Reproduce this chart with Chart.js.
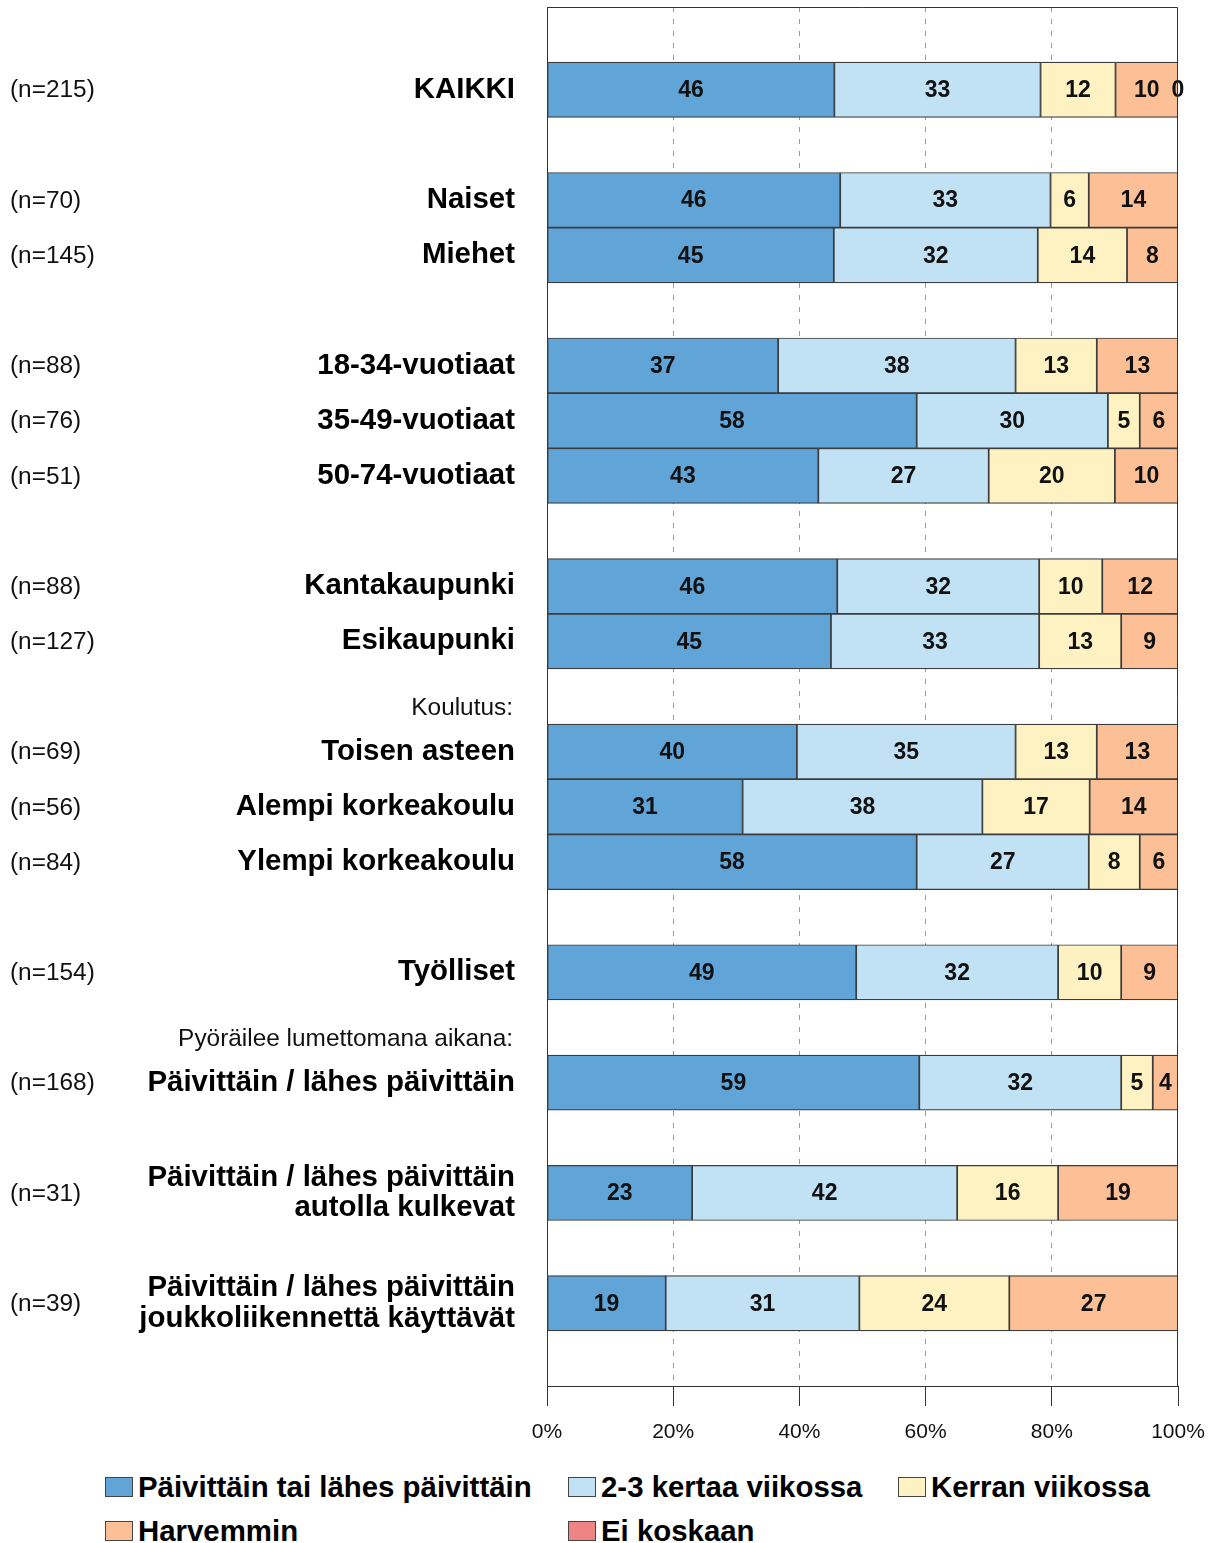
<!DOCTYPE html>
<html lang="fi">
<head>
<meta charset="utf-8">
<title>Pyöräilyn useus</title>
<script src="https://cdn.jsdelivr.net/npm/chart.js@4/dist/chart.umd.min.js"></script>
<style>
  html, body { margin: 0; padding: 0; background: #fff; }
  #wrap { position: relative; width: 1224px; height: 1543px; font-family: "Liberation Sans", Arial, sans-serif; }
  #c { display: block; }
  .lg-item { position: absolute; display: flex; align-items: center; height: 34px; font-weight: bold; font-size: 29.4px; color: #000; white-space: nowrap; }
  .lg-box { width: 26px; height: 18px; border: 1px solid #444; margin-right: 5px; flex: none; }
</style>
</head>
<body>
<div id="wrap">
  <canvas id="c" width="1224" height="1460"></canvas>
  <div id="legend"></div>
</div>
<script>
// Rows of the chart (top to bottom); empty strings are spacer rows
const categories = [
  "", "KAIKKI", "", "Naiset", "Miehet", "",
  "18-34-vuotiaat", "35-49-vuotiaat", "50-74-vuotiaat", "",
  "Kantakaupunki", "Esikaupunki", "",
  "Toisen asteen", "Alempi korkeakoulu", "Ylempi korkeakoulu", "",
  "Työlliset", "",
  "Päivittäin / lähes päivittäin", "",
  ["Päivittäin / lähes päivittäin", "autolla kulkevat"], "",
  ["Päivittäin / lähes päivittäin", "joukkoliikennettä käyttävät"], ""
];
const sampleSizes = [
  "", "(n=215)", "", "(n=70)", "(n=145)", "",
  "(n=88)", "(n=76)", "(n=51)", "",
  "(n=88)", "(n=127)", "",
  "(n=69)", "(n=56)", "(n=84)", "",
  "(n=154)", "",
  "(n=168)", "",
  "(n=31)", "",
  "(n=39)", ""
];
const groupHeadings = [
  "", "", "", "", "", "", "", "", "", "", "", "",
  "Koulutus:", "", "", "", "", "",
  "Pyöräilee lumettomana aikana:", "", "", "", "", "", ""
];

const seriesNames = [
  "Päivittäin tai lähes päivittäin",
  "2-3 kertaa viikossa",
  "Kerran viikossa",
  "Harvemmin",
  "Ei koskaan"
];
const seriesColors = ["#61a4d8", "#c1e1f4", "#fff2c2", "#fdc096", "#ef8484"];

// Shares (%) per row
const daily    = [null, 46, null, 46, 45, null, 37, 58, 43, null, 46, 45, null, 40, 31, 58, null, 49, null, 59, null, 23, null, 19, null];
const weekly23 = [null, 33, null, 33, 32, null, 38, 30, 27, null, 32, 33, null, 35, 38, 27, null, 32, null, 32, null, 42, null, 31, null];
const weekly1  = [null, 12, null,  6, 14, null, 13,  5, 20, null, 10, 13, null, 13, 17,  8, null, 10, null,  5, null, 16, null, 24, null];
const rarely   = [null, 10, null, 14,  8, null, 13,  6, 10, null, 12,  9, null, 13, 14,  6, null,  9, null,  4, null, 19, null, 27, null];
const never    = [null,  0, null, null, null, null, null, null, null, null, null, null, null, null, null, null, null, null, null, null, null, null, null, null, null];

const xTickLabels = ["0%", "20%", "40%", "60%", "80%", "100%"];

const allSeries = [daily, weekly23, weekly1, rarely, never];

// Each row is scaled so that its segments fill 0–100 %
function scaleRow(series) {
  return series.map((v, i) => {
    if (v === null) return null;
    const total = allSeries.reduce((s, arr) => s + (arr[i] || 0), 0);
    return total ? v / total * 100 : 0;
  });
}

const FONT = '"Liberation Sans", Arial, sans-serif';

const datasets = allSeries.map((series, k) => ({
  label: seriesNames[k],
  data: scaleRow(series),
  shownValues: series,
  backgroundColor: seriesColors[k],
  borderColor: "#3c3c3c",
  borderWidth: 1.2,
  borderSkipped: false,
  barPercentage: 1,
  categoryPercentage: 1
}));

// Values written in the middle of each segment
const segmentLabels = {
  id: "segmentLabels",
  afterDatasetsDraw(chart) {
    const ctx = chart.ctx;
    ctx.save();
    ctx.font = "bold 23px " + FONT;
    ctx.fillStyle = "#111";
    ctx.textAlign = "center";
    ctx.textBaseline = "middle";
    chart.data.datasets.forEach((ds, di) => {
      const meta = chart.getDatasetMeta(di);
      meta.data.forEach((el, i) => {
        const v = ds.shownValues[i];
        if (v === null || v === undefined) return;
        ctx.fillText(String(v), (el.x + el.base) / 2, el.y + 1);
      });
    });
    ctx.restore();
  }
};

// Top and right edges of the plot frame
const plotFrame = {
  id: "plotFrame",
  afterDatasetsDraw(chart) {
    const { ctx, chartArea: a } = chart;
    ctx.save();
    ctx.strokeStyle = "#333";
    ctx.lineWidth = 1;
    ctx.beginPath();
    ctx.moveTo(a.left, a.top + 0.5);
    ctx.lineTo(a.right - 0.5, a.top + 0.5);
    ctx.lineTo(a.right - 0.5, a.bottom);
    ctx.stroke();
    ctx.restore();
  }
};

// Sample sizes on the far left and the group headings
const sideTexts = {
  id: "sideTexts",
  afterDraw(chart) {
    const ctx = chart.ctx;
    const y = chart.scales.y;
    ctx.save();
    ctx.font = "24.4px " + FONT;
    ctx.fillStyle = "#111";
    ctx.textBaseline = "middle";
    sampleSizes.forEach((t, i) => {
      if (!t) return;
      ctx.textAlign = "left";
      ctx.fillText(t, 10, y.getPixelForValue(i) + 1);
    });
    groupHeadings.forEach((t, i) => {
      if (!t) return;
      ctx.textAlign = "right";
      ctx.fillText(t, 513, y.getPixelForValue(i) + 12);
    });
    ctx.restore();
  }
};

const chart = new Chart(document.getElementById("c"), {
  type: "bar",
  data: { labels: categories, datasets },
  plugins: [segmentLabels, plotFrame, sideTexts],
  options: {
    indexAxis: "y",
    responsive: false,
    animation: false,
    devicePixelRatio: 1,
    layout: { padding: { top: 7, right: 46, bottom: 0, left: 0 } },
    plugins: {
      legend: { display: false },
      tooltip: { enabled: false }
    },
    scales: {
      x: {
        stacked: true,
        min: 0,
        max: 100,
        afterFit(scale) { scale.height = 74; },
        ticks: {
          stepSize: 20,
          autoSkip: false,
          maxRotation: 0,
          padding: 14,
          color: "#111",
          font: { family: FONT, size: 21 },
          callback: (v) => xTickLabels[Math.round(v / 20)]
        },
        grid: {
          color: (c) => (c.tick && (c.tick.value === 0 || c.tick.value === 100)) ? "rgba(0,0,0,0)" : "#9a9a9a",
          lineWidth: 1,
          tickColor: "#333",
          tickLength: 20,
          drawTicks: true
        },
        border: { display: true, color: "#333", width: 1, dash: [5, 7] }
      },
      y: {
        stacked: true,
        afterFit(scale) {
          scale.width = 547;
          scale.paddingTop = 0;
          scale.paddingBottom = 0;
        },
        ticks: {
          autoSkip: false,
          padding: 32,
          color: "#000",
          font: { family: FONT, size: 29.4, weight: "bold", lineHeight: 1.03 }
        },
        grid: { display: false, drawTicks: false },
        border: { display: true, color: "#333", width: 1 }
      }
    }
  }
});

// Legend below the chart, built from the datasets
(function buildLegend() {
  const host = document.getElementById("legend");
  const spots = [[105, 1470], [568, 1470], [898, 1470], [105, 1514], [568, 1514]];
  chart.data.datasets.forEach((ds, i) => {
    const item = document.createElement("div");
    item.className = "lg-item";
    item.style.left = spots[i][0] + "px";
    item.style.top = spots[i][1] + "px";
    const box = document.createElement("span");
    box.className = "lg-box";
    box.style.background = ds.backgroundColor;
    const txt = document.createElement("span");
    txt.textContent = ds.label;
    item.appendChild(box);
    item.appendChild(txt);
    host.appendChild(item);
  });
})();
</script>
</body>
</html>
